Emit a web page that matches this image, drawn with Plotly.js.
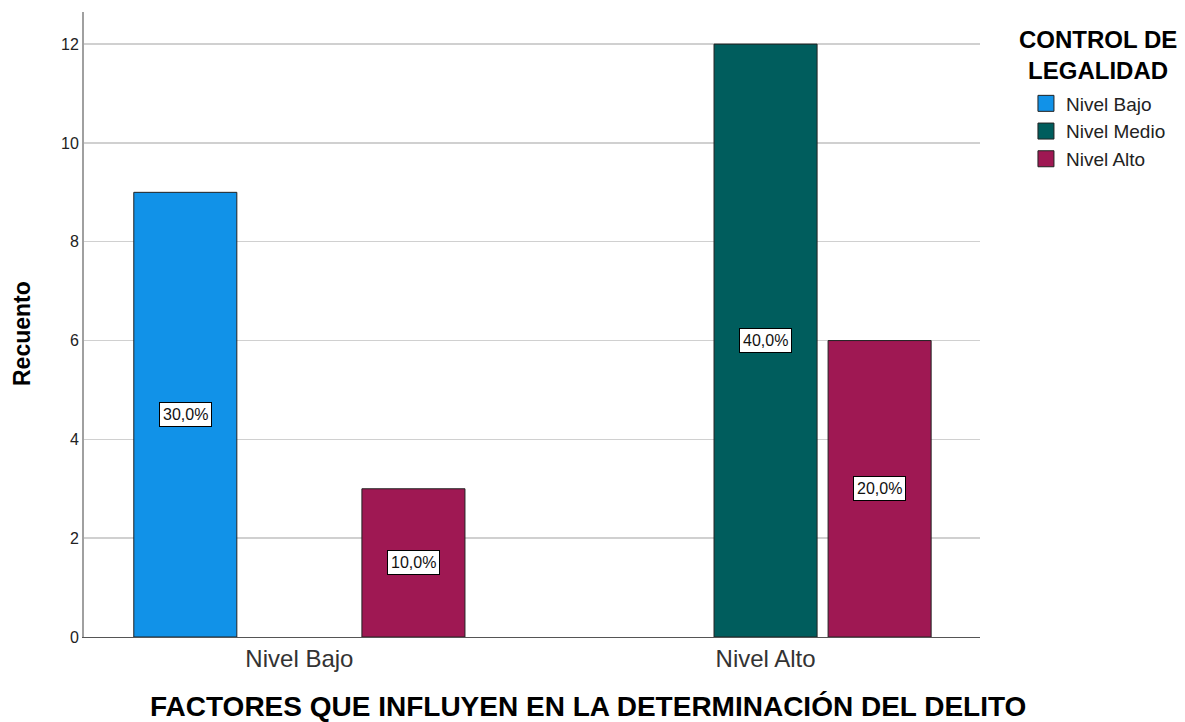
<!DOCTYPE html>
<html>
<head>
<meta charset="utf-8">
<script src="https://cdn.plot.ly/plotly-3.0.1.min.js"></script>
<style>html,body{margin:0;padding:0;background:#fff;}#chart{width:1185px;height:722px;}</style>
</head>
<body>
<div id="chart"></div>
<script>
const categories = ["Nivel Bajo", "Nivel Alto"];
const seriesNames = ["Nivel Bajo", "Nivel Medio", "Nivel Alto"];
const nivelBajo = [9, null];
const nivelMedio = [null, 12];
const nivelAlto = [3, 6];
const labelsBajo = ["30,0%", null];
const labelsMedio = [null, "40,0%"];
const labelsAlto = ["10,0%", "20,0%"];
const colors = ["#1192e8", "#005d5d", "#9f1853"];
const legendTitle = ["CONTROL DE", "LEGALIDAD"];
const xTitle = "FACTORES QUE INFLUYEN EN LA DETERMINACIÓN DEL DELITO";
const yTitle = "Recuento";

const seriesValues = [nivelBajo, nivelMedio, nivelAlto];
const seriesLabels = [labelsBajo, labelsMedio, labelsAlto];
const FONT = "Liberation Sans, Arial, sans-serif";

const traces = [];
seriesValues.forEach((vals, i) => {
  traces.push({
    type: "bar",
    name: seriesNames[i],
    x: categories,
    y: vals,
    marker: {color: colors[i], line: {color: "#222", width: 1}},
    hoverinfo: "none",
    showlegend: false
  });
});
// legend entries with square swatches
seriesNames.forEach((n, i) => {
  traces.push({
    type: "scatter",
    mode: "markers",
    name: n,
    x: [categories[0]],
    y: [null],
    marker: {symbol: "square", size: 16, color: colors[i], line: {color: "#222", width: 1}},
    hoverinfo: "none",
    showlegend: true
  });
});

const bargap = 0.266;
const slot = (1 - bargap) / 3;
const annotations = [];
seriesValues.forEach((vals, i) => {
  vals.forEach((v, j) => {
    if (v !== null && seriesLabels[i][j]) {
      annotations.push({
        x: j + (i - 1) * slot,
        y: v / 2,
        xref: "x", yref: "y",
        text: seriesLabels[i][j],
        showarrow: false,
        bgcolor: "#ffffff",
        bordercolor: "#000000",
        borderwidth: 1,
        borderpad: 3,
        font: {family: FONT, size: 16, color: "#111"}
      });
    }
  });
});
annotations.push({
  xref: "paper", yref: "paper", x: 1.1317, y: 0.9312,
  xanchor: "center", yanchor: "middle", showarrow: false, align: "center",
  text: "<b>" + legendTitle.join("<br>") + "</b>", font: {family: FONT, size: 24, color: "#000"}
});
annotations.push({
  xref: "paper", yref: "paper", x: 0.5625, y: -0.1104,
  xanchor: "center", yanchor: "middle", showarrow: false,
  text: "<b>" + xTitle + "</b>", font: {family: FONT, size: 28, color: "#000"}
});
annotations.push({
  xref: "paper", yref: "paper", x: -0.0692, y: 0.4864,
  xanchor: "center", yanchor: "middle", showarrow: false, textangle: -90,
  text: "<b>" + yTitle + "</b>", font: {family: FONT, size: 23, color: "#000"}
});

const layout = {
  width: 1185, height: 722,
  margin: {l: 84, r: 205, t: 12, b: 85, autoexpand: false},
  paper_bgcolor: "#fff", plot_bgcolor: "#fff",
  barmode: "group",
  bargap: bargap,
  bargroupgap: 0.0965,
  font: {family: FONT, color: "#222"},
  xaxis: {
    type: "category",
    range: [-0.462, 1.46],
    showline: true, linecolor: "#555", linewidth: 1,
    showgrid: false, ticks: "",
    tickfont: {family: FONT, size: 24, color: "#333"}
  },
  yaxis: {
    range: [0, 12.65],
    tickvals: [0, 2, 4, 6, 8, 10, 12],
    showline: true, linecolor: "#a0a0a0", linewidth: 2,
    showgrid: true, gridcolor: "#d0d0d0", gridwidth: 1.5,
    zeroline: false, ticks: "",
    tickfont: {family: FONT, size: 16, color: "#222"}
  },
  legend: {
    x: 1.0513, y: 0.884, xanchor: "left", yanchor: "top",
    font: {family: FONT, size: 19, color: "#222"},
    itemwidth: 30, tracegroupgap: 0,
    bgcolor: "rgba(0,0,0,0)"
  },
  annotations: annotations,
  showlegend: true
};

Plotly.newPlot("chart", traces, layout, {displayModeBar: false, staticPlot: true});
</script>
</body>
</html>
